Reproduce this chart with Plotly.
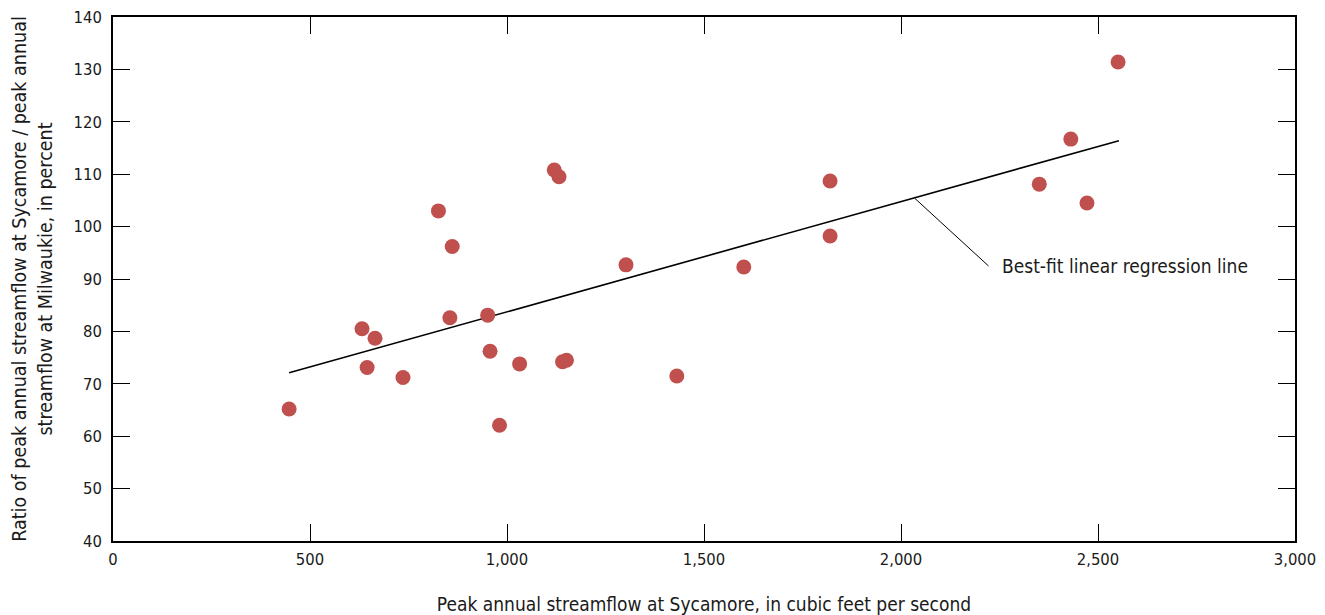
import plotly.graph_objects as go

# Peak annual streamflow at Sycamore (cfs)
sycamore_peak = [447, 632, 645, 665, 736, 826, 855, 861, 951, 957, 981, 1032,
                 1120, 1132, 1141, 1151, 1302, 1431, 1601, 1820, 1820,
                 2351, 2431, 2472, 2551]
# Ratio of Sycamore peak to Milwaukie peak (percent)
ratio_pct = [65.2, 80.5, 73.1, 78.7, 71.2, 103.0, 82.6, 96.2, 83.1, 76.2, 62.1, 73.8,
             110.8, 109.5, 74.2, 74.5, 92.7, 71.5, 92.3, 108.7, 98.2,
             108.1, 116.7, 104.5, 131.4]

# Best-fit linear regression line end points
fit_x = [447, 2553]
fit_y = [72.1, 116.4]

x_ticks = [0, 500, 1000, 1500, 2000, 2500, 3000]
x_tick_text = ["0", "500", "1,000", "1,500", "2,000", "2,500", "3,000"]
y_ticks = [40, 50, 60, 70, 80, 90, 100, 110, 120, 130, 140]

FONT = "DejaVu Sans Condensed, Roboto, sans-serif"
TEXT = "#1a1a1a"

fig = go.Figure()
fig.add_trace(go.Scatter(
    x=fit_x, y=fit_y, mode="lines",
    line=dict(color="#000000", width=1.6),
    hoverinfo="skip", showlegend=False,
))
fig.add_trace(go.Scatter(
    x=sycamore_peak, y=ratio_pct, mode="markers",
    marker=dict(color="#c0504d", size=15, line=dict(width=0)),
    showlegend=False,
))

# Leader line and label for the regression line
fig.add_shape(type="line", xref="x", yref="y",
              x0=2035, y0=105.4, x1=2222, y1=92.5,
              line=dict(color="#000000", width=1))
fig.add_annotation(x=2250, y=92.5, xref="x", yref="y",
                   text="Best-fit linear regression line", showarrow=False,
                   xanchor="left", yanchor="middle",
                   font=dict(family=FONT, size=19, color=TEXT))

axis_common = dict(
    showline=True, linecolor="#000000", linewidth=1.5, mirror="ticks",
    ticks="inside", ticklen=17, tickwidth=1.3, tickcolor="#000000",
    showgrid=False, zeroline=False, automargin=False,
    tickfont=dict(family=FONT, size=16.5, color=TEXT),
)

fig.update_layout(
    width=1325, height=615,
    margin=dict(l=113, r=30, t=17, b=74),
    paper_bgcolor="white", plot_bgcolor="white",
    xaxis=dict(range=[0, 3000], tickvals=x_ticks, ticktext=x_tick_text,
               ticklabelstandoff=2,
               title=dict(text="Peak annual streamflow at Sycamore, in cubic feet per second",
                          font=dict(family=FONT, size=19, color=TEXT), standoff=30),
               **axis_common),
    yaxis=dict(range=[40, 140], tickvals=y_ticks,
               ticklabelstandoff=6,
               title=dict(text="Ratio of peak annual streamflow at Sycamore / peak annual<br>streamflow at Milwaukie, in percent",
                          font=dict(family=FONT, size=19.5, color=TEXT), standoff=16),
               **axis_common),
)

fig.write_html("out.html")
